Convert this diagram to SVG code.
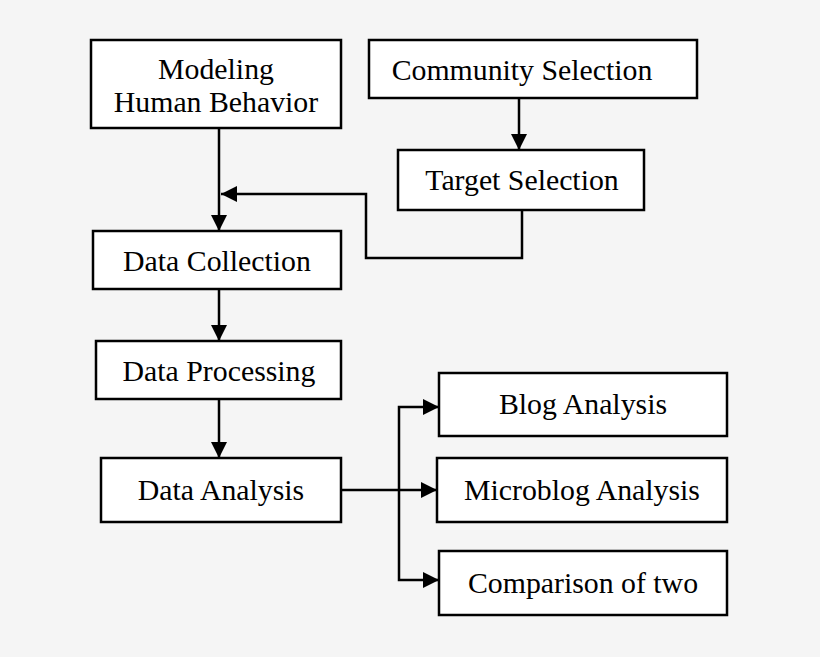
<svg xmlns="http://www.w3.org/2000/svg" width="820" height="657" viewBox="0 0 820 657">
<style>
.b{fill:#fff;stroke:#000;stroke-width:2.5}
.t{font-family:"Liberation Serif","Times New Roman",serif;font-size:29.8px;text-anchor:middle;fill:#000}
.c{fill:none;stroke:#000;stroke-width:2.5}
</style>
<defs><marker id="m" viewBox="0 0 10 10" refX="10" refY="5" markerWidth="18" markerHeight="16" markerUnits="userSpaceOnUse" orient="auto"><path d="M0,0L10,5L0,10z"/></marker></defs>
<rect width="820" height="657" fill="#f5f5f5"/>
<g id="connectors">
<path class="c" marker-end="url(#m)" d="M219,128V231"/>
<path class="c" marker-end="url(#m)" d="M519,98V150"/>
<path class="c" marker-end="url(#m)" d="M522,210V258H366V194H221"/>
<path class="c" marker-end="url(#m)" d="M219,289V341"/>
<path class="c" marker-end="url(#m)" d="M219,399V458"/>
<path class="c" marker-end="url(#m)" d="M341,490H437"/>
<path class="c" marker-end="url(#m)" d="M399,490V407H439"/>
<path class="c" marker-end="url(#m)" d="M399,490V580H439"/>
</g>
<g id="n1"><rect class="b" x="91" y="40" width="250" height="88"/><text class="t" x="216" y="79">Modeling</text><text class="t" x="216" y="112">Human Behavior</text></g>
<g id="n2"><rect class="b" x="369" y="40" width="328" height="58"/><text class="t" x="522" y="80">Community Selection</text></g>
<g id="n3"><rect class="b" x="398" y="150" width="246" height="60"/><text class="t" x="522" y="190">Target Selection</text></g>
<g id="n4"><rect class="b" x="93" y="231" width="248" height="58"/><text class="t" x="217" y="271">Data Collection</text></g>
<g id="n5"><rect class="b" x="96" y="341" width="245" height="58"/><text class="t" x="219" y="381">Data Processing</text></g>
<g id="n6"><rect class="b" x="101" y="458" width="240" height="64"/><text class="t" x="221" y="500">Data Analysis</text></g>
<g id="n7"><rect class="b" x="439" y="373" width="288" height="63"/><text class="t" x="583" y="414">Blog Analysis</text></g>
<g id="n8"><rect class="b" x="437" y="458" width="290" height="64"/><text class="t" x="582" y="500">Microblog Analysis</text></g>
<g id="n9"><rect class="b" x="439" y="551" width="288" height="64"/><text class="t" x="583" y="593">Comparison of two</text></g>
</svg>
